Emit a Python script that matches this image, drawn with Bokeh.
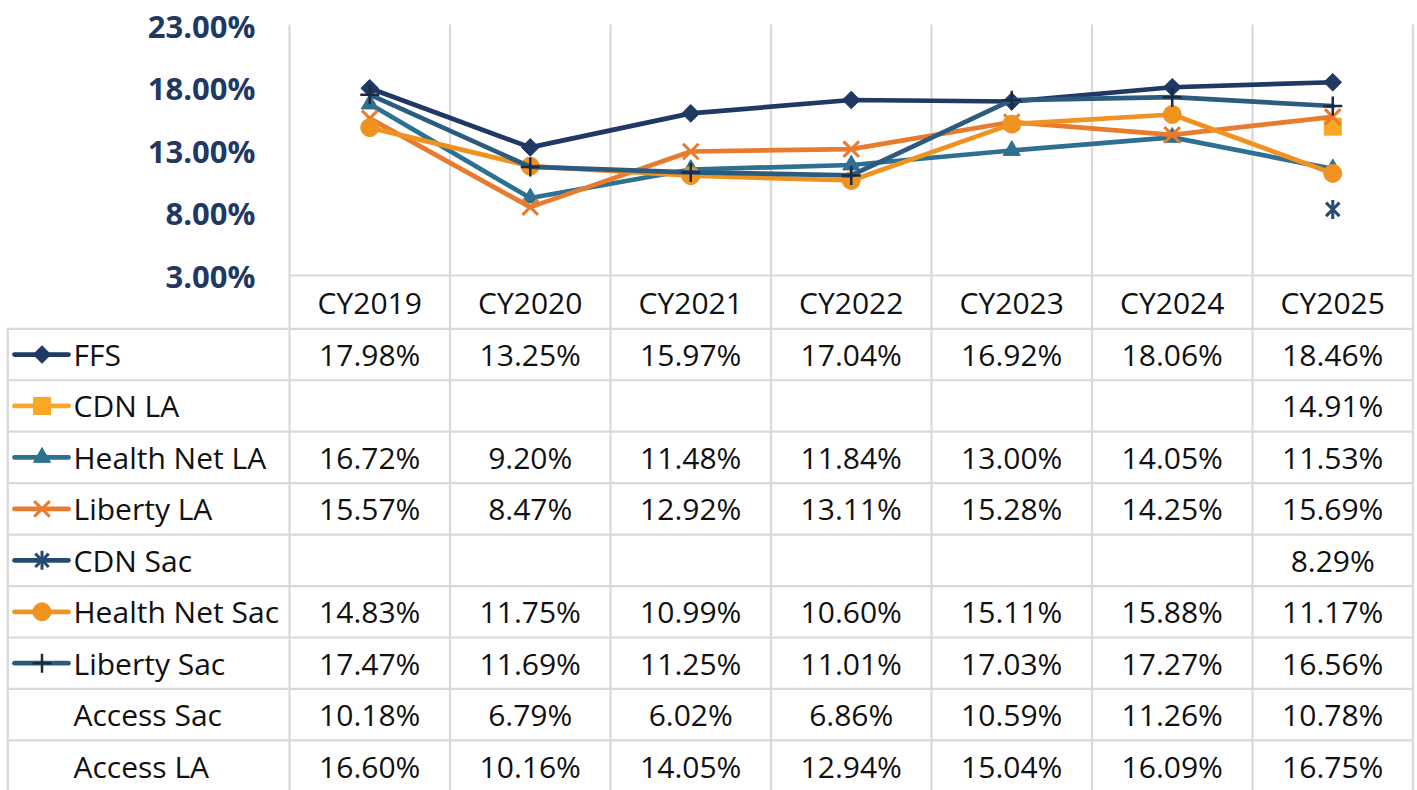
import math
from bokeh.plotting import figure
from bokeh.models import Range1d, ColumnDataSource
from bokeh.core.properties import value
from bokeh.embed import file_html
from bokeh.resources import INLINE

# ---------------- data ----------------
years = ["CY2019", "CY2020", "CY2021", "CY2022", "CY2023", "CY2024", "CY2025"]
nan = float("nan")
ffs = [17.98, 13.25, 15.97, 17.04, 16.92, 18.06, 18.46]
cdn_la = [nan, nan, nan, nan, nan, nan, 14.91]
health_net_la = [16.72, 9.20, 11.48, 11.84, 13.00, 14.05, 11.53]
liberty_la = [15.57, 8.47, 12.92, 13.11, 15.28, 14.25, 15.69]
cdn_sac = [nan, nan, nan, nan, nan, nan, 8.29]
health_net_sac = [14.83, 11.75, 10.99, 10.60, 15.11, 15.88, 11.17]
liberty_sac = [17.47, 11.69, 11.25, 11.01, 17.03, 17.27, 16.56]
access_sac = [10.18, 6.79, 6.02, 6.86, 10.59, 11.26, 10.78]
access_la = [16.60, 10.16, 14.05, 12.94, 15.04, 16.09, 16.75]

series_names = ["FFS", "CDN LA", "Health Net LA", "Liberty LA", "CDN Sac",
                "Health Net Sac", "Liberty Sac", "Access Sac", "Access LA"]
series_values = [ffs, cdn_la, health_net_la, liberty_la, cdn_sac,
                 health_net_sac, liberty_sac, access_sac, access_la]
plotted = [True, True, True, True, True, True, True, False, False]

y_ticks = [3, 8, 13, 18, 23]
y_tick_labels = ["3.00%", "8.00%", "13.00%", "18.00%", "23.00%"]

# ---------------- styles ----------------
# each series: line colour + list of marker layers (marker, size, angle, colour, line width)
styles = {
    "FFS": dict(line="#1F3864", marks=[("square", 12.5, math.pi / 4, "#1F3864", 1)]),
    "CDN LA": dict(line="#F9A825", marks=[("square", 17, 0, "#F9A825", 1)]),
    "Health Net LA": dict(line="#2E7091", marks=[("triangle", 17, 0, "#2E7091", 1)]),
    "Liberty LA": dict(line="#E97B2E", marks=[("x", 22, 0, "#E97B2E", 3)]),
    "CDN Sac": dict(line="#264A70", marks=[("x", 19, 0, "#264A70", 3),
                                            ("dash", 19, math.pi / 2, "#264A70", 3)]),
    "Health Net Sac": dict(line="#F0921F", marks=[("circle", 18, 0, "#F0921F", 1)]),
    "Liberty Sac": dict(line="#2B5C80", marks=[("cross", 19, 0, "#1B2A44", 2.5)]),
}
FONT = value("Open Sans")
FS = "30px"
TICK_FS = "31px"
TEXT_COLOR = "#111111"
GRID = "#D9D9D9"
LW = 4.75

# ---------------- layout ----------------
W, H = 1417, 790
COL = 160.5
COL_LEFT = 289.0
PX_PER_PCT = 12.5
Y3_PX = 275.0
ROW0 = 328.3
ROW_H = 51.45

x_start = -0.5 - COL_LEFT / COL
x_end = x_start + W / COL
y_start = 3 - (H - Y3_PX) / PX_PER_PCT
y_end = 3 + Y3_PX / PX_PER_PCT


def px2x(px):
    return x_start + px / COL


p = figure(width=W, height=H, output_backend="svg", toolbar_location=None,
           x_range=Range1d(x_start, x_end), y_range=Range1d(y_start, y_end),
           x_axis_location=None, y_axis_location=None, min_border=0,
           outline_line_color=None, background_fill_color="white",
           border_fill_color="white")
p.grid.visible = False
p.extra_y_ranges = {"tbl": Range1d(H, 0)}

ncol = len(years)
# vertical grid lines
bx = [i - 0.5 for i in range(ncol + 1)]
p.segment(x0=bx, y0=[24] * len(bx), x1=bx, y1=[H] * len(bx), y_range_name="tbl",
          line_color=GRID, line_width=2.2)
# horizontal line at bottom of plot area
p.segment(x0=[-0.5], y0=[Y3_PX], x1=[ncol - 0.5], y1=[Y3_PX], y_range_name="tbl",
          line_color=GRID, line_width=2.2)
# table row lines
ry = [ROW0 + k * ROW_H for k in range(len(series_names) + 1)]
p.segment(x0=[px2x(6.3)] * len(ry), y0=ry, x1=[ncol - 0.5] * len(ry), y1=ry,
          y_range_name="tbl", line_color=GRID, line_width=2.2)
# left border of table
p.segment(x0=[px2x(7.3)], y0=[ROW0], x1=[px2x(7.3)], y1=[H], y_range_name="tbl",
          line_color=GRID, line_width=2.2)

# y tick labels
p.text(x=[px2x(255)] * len(y_ticks), y=y_ticks, text=y_tick_labels,
       text_font=FONT, text_font_size=TICK_FS, text_font_style="bold",
       text_color="#1F3864", text_align="right", text_baseline="middle")

# category labels
p.text(x=list(range(ncol)), y=[(Y3_PX + ROW0) / 2] * ncol, text=years,
       y_range_name="tbl", text_font=FONT, text_font_size=FS,
       text_color=TEXT_COLOR, text_align="center", text_baseline="middle")

# chart lines & markers
xs = list(range(ncol))
for name, vals, show in zip(series_names, series_values, plotted):
    if not show:
        continue
    st = styles[name]
    src = ColumnDataSource(dict(x=xs, y=vals))
    p.line("x", "y", source=src, line_color=st["line"], line_width=LW,
           line_join="round", line_cap="round")
    for (mk, sz, ang, col, mlw) in st["marks"]:
        p.scatter("x", "y", source=src, marker=mk, size=sz, angle=ang,
                  fill_color=col, line_color=col, line_width=mlw)

# table rows
centers = [ROW0 + (k + 0.5) * ROW_H for k in range(len(series_names))]
for k, (name, vals, show) in enumerate(zip(series_names, series_values, plotted)):
    cy = centers[k]
    if show:
        st = styles[name]
        p.segment(x0=[px2x(14)], y0=[cy], x1=[px2x(68)], y1=[cy], y_range_name="tbl",
                  line_color=st["line"], line_width=LW, line_cap="round")
        for (mk, sz, ang, col, mlw) in st["marks"]:
            p.scatter(x=[px2x(41.5)], y=[cy], y_range_name="tbl", marker=mk,
                      size=sz, angle=ang, fill_color=col, line_color=col,
                      line_width=mlw)
    txt = ["" if (v != v) else f"{v:.2f}%" for v in vals]
    p.text(x=xs, y=[cy] * ncol, text=txt, y_range_name="tbl", text_font=FONT,
           text_font_size=FS, text_color=TEXT_COLOR, text_align="center",
           text_baseline="middle")

p.text(x=[px2x(73)] * len(series_names), y=centers, text=series_names,
       y_range_name="tbl", text_font=FONT, text_font_size=FS, text_color=TEXT_COLOR,
       text_align="left", text_baseline="middle")

open("out.html", "w").write(file_html(p, INLINE))
